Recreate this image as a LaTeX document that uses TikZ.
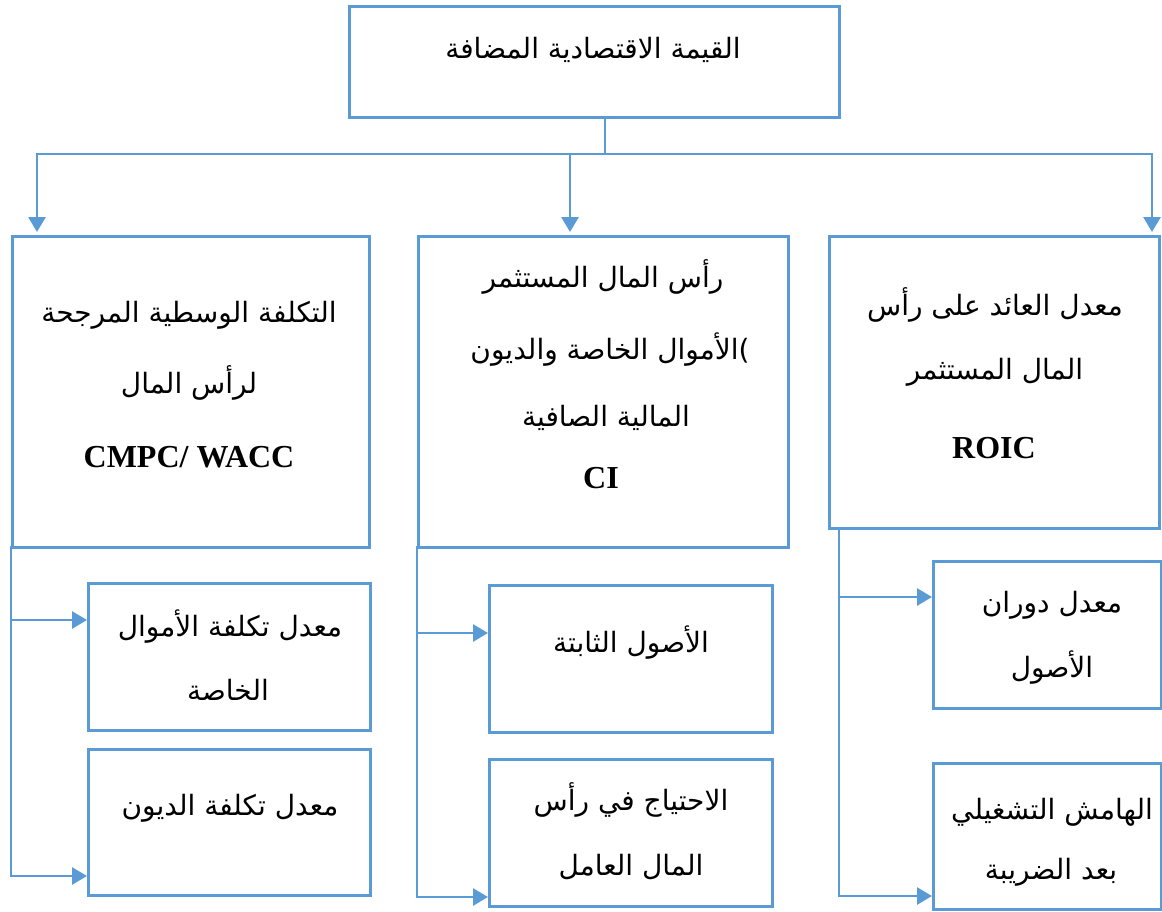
\documentclass[tikz,border=0pt]{standalone}
\usepackage{fontspec}
\setmainfont{Liberation Serif}
\newfontfamily\arabicfont[Script=Arabic]{DejaVu Sans}
\TeXXeTstate=1
\usetikzlibrary{arrows.meta}
\newcommand\rtltext[1]{\beginR #1\endR}
\definecolor{linkblue}{HTML}{5B9BD5}
\begin{document}
\begin{tikzpicture}[x=1pt,y=-1pt,
  box/.style={draw=linkblue, line width=2.8pt, rectangle, inner sep=0pt, anchor=north west},
  arabic/.style={font=\arabicfont\fontsize{28}{32}\selectfont, inner sep=0pt, anchor=center},
  latin/.style={font=\bfseries\fontsize{32}{36}\selectfont, inner sep=0pt, anchor=center},
  link/.style={draw=linkblue, line width=2.8pt},
  arrowlink/.style={link, -{Triangle[width=17pt,length=15pt]}}]
\useasboundingbox (0,0) rectangle (1162,911);

% boxes
\node[box, minimum width=490pt, minimum height=111pt] (eva) at (348,5) {};
\node[box, minimum width=357pt, minimum height=311pt] (wacc) at (11,235) {};
\node[box, minimum width=370pt, minimum height=311pt] (ci) at (417,235) {};
\node[box, minimum width=330pt, minimum height=292pt] (roic) at (828,235) {};
\node[box, minimum width=282pt, minimum height=147pt] (ke) at (87,582) {};
\node[box, minimum width=282pt, minimum height=146pt] (kd) at (87,748) {};
\node[box, minimum width=283pt, minimum height=147pt] (fa) at (488,584) {};
\node[box, minimum width=283pt, minimum height=147pt] (wcr) at (488,758) {};
\node[box, minimum width=228pt, minimum height=147pt] (at) at (932,560) {};
\node[box, minimum width=228pt, minimum height=146pt] (om) at (932,762) {};

% texts
\node[arabic] (evaT) at (593,50) {\rtltext{القيمة الاقتصادية المضافة}};

\node[arabic] (waccT1) at (189,315) {\rtltext{التكلفة الوسطية المرجحة}};
\node[arabic] (waccT2) at (189,383) {\rtltext{لرأس المال}};
\node[latin]  (waccT3) at (189,457) {CMPC/ WACC};

\node[arabic] (ciT1) at (603,277) {\rtltext{رأس المال المستثمر}};
\node[arabic] (ciT2) at (610,350) {\rtltext{الأموال الخاصة والديون})};
\node[arabic] (ciT3) at (606,418) {\rtltext{المالية الصافية}};
\node[latin]  (ciT4) at (601,478) {CI};

\node[arabic] (roicT1) at (995,305) {\rtltext{معدل العائد على رأس}};
\node[arabic] (roicT2) at (995,372) {\rtltext{المال المستثمر}};
\node[latin]  (roicT3) at (994,448) {ROIC};

\node[arabic] (keT1) at (230,627) {\rtltext{معدل تكلفة الأموال}};
\node[arabic] (keT2) at (228,690) {\rtltext{الخاصة}};
\node[arabic] (kdT) at (230,808) {\rtltext{معدل تكلفة الديون}};

\node[arabic] (faT) at (631,643) {\rtltext{الأصول الثابتة}};
\node[arabic] (wcrT1) at (631,800) {\rtltext{الاحتياج في رأس}};
\node[arabic] (wcrT2) at (631,867) {\rtltext{المال العامل}};

\node[arabic] (atT1) at (1052,605) {\rtltext{معدل دوران}};
\node[arabic] (atT2) at (1052,668) {\rtltext{الأصول}};
\node[arabic] (omT1) at (1052,812) {\rtltext{الهامش التشغيلي}};
\node[arabic] (omT2) at (1051,872) {\rtltext{بعد الضريبة}};

% connector points
\coordinate (hub) at (605,154);
\coordinate (waccIn) at (37,232);
\coordinate (ciIn) at (570,232);
\coordinate (roicIn) at (1152,232);
\coordinate (ciTap) at (570,154);

% top level
\draw[link] (eva.south -| hub) -- (hub);
\draw[arrowlink] (hub) -| (waccIn);
\draw[arrowlink] (hub) -| (roicIn);
\draw[arrowlink] (ciTap) -- (ciIn);

% left branch
\coordinate (waccOut) at (11,546);
\coordinate (keTap) at (11,620);
\draw[arrowlink] (keTap) -- (keTap -| ke.west);
\draw[arrowlink] (waccOut) |- ([yshift=-128pt]kd.north west);

% middle branch
\coordinate (ciOut) at (417,546);
\coordinate (faTap) at (417,633);
\draw[arrowlink] (faTap) -- (faTap -| fa.west);
\draw[arrowlink] (ciOut) |- ([yshift=-139pt]wcr.north west);

% right branch
\coordinate (roicOut) at (839,527);
\coordinate (atTap) at (839,597);
\draw[arrowlink] (atTap) -- (atTap -| at.west);
\draw[arrowlink] (roicOut) |- ([yshift=-134pt]om.north west);
\end{tikzpicture}
\end{document}
